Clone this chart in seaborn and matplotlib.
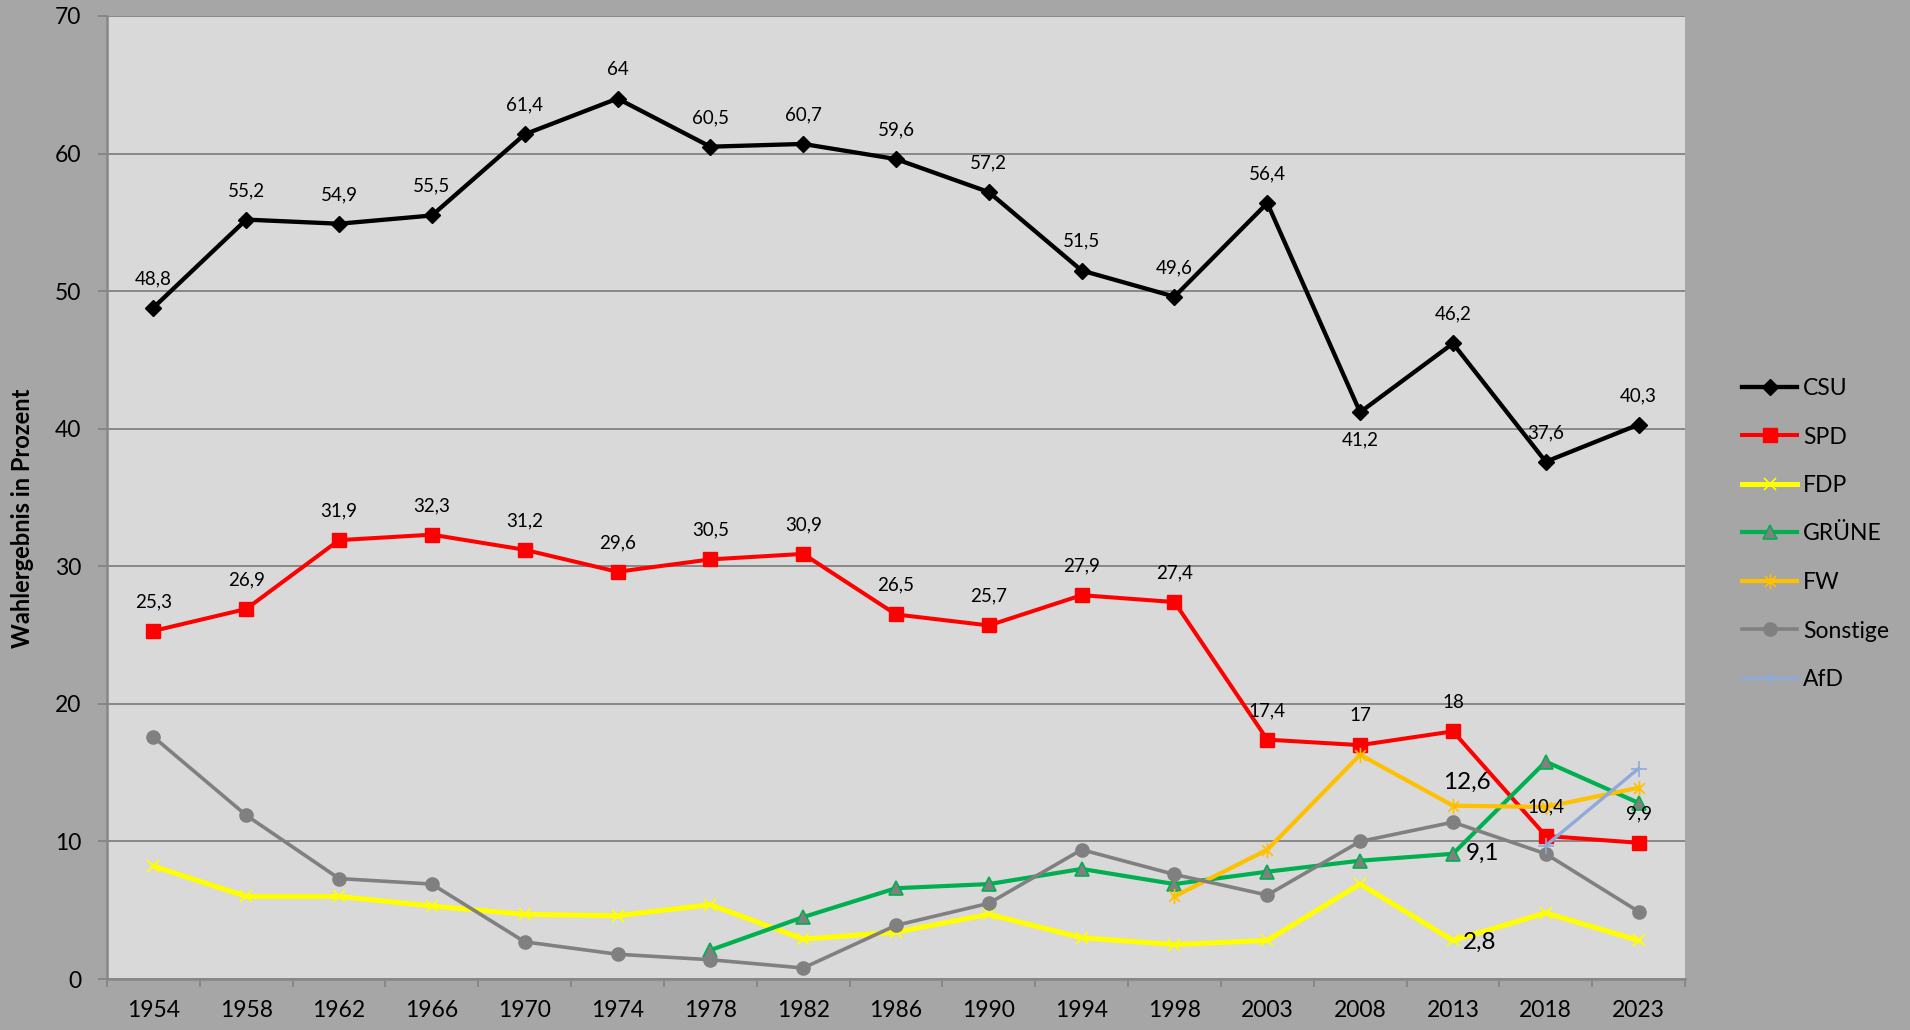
import numpy as np
import pandas as pd
import matplotlib
matplotlib.use("Agg")
import matplotlib.pyplot as plt
import seaborn as sns
from matplotlib.path import Path
from matplotlib.ticker import FixedLocator, NullFormatter

# ---------------- data ----------------
years = ["1954", "1958", "1962", "1966", "1970", "1974", "1978", "1982", "1986",
         "1990", "1994", "1998", "2003", "2008", "2013", "2018", "2023"]
csu = [48.8, 55.2, 54.9, 55.5, 61.4, 64, 60.5, 60.7, 59.6, 57.2, 51.5, 49.6,
       56.4, 41.2, 46.2, 37.6, 40.3]
spd = [25.3, 26.9, 31.9, 32.3, 31.2, 29.6, 30.5, 30.9, 26.5, 25.7, 27.9, 27.4,
       17.4, 17, 18, 10.4, 9.9]
fdp = [8.2, 6.0, 6.0, 5.3, 4.7, 4.6, 5.4, 2.9, 3.4, 4.7, 3.0, 2.5, 2.8, 6.9,
       2.8, 4.8, 2.8]
gruene = [np.nan] * 6 + [2.1, 4.5, 6.6, 6.9, 8.0, 6.9, 7.8, 8.6, 9.1, 15.8, 12.8]
fw = [np.nan] * 11 + [6.0, 9.4, 16.3, 12.6, 12.5, 13.9]
sonstige = [17.6, 11.9, 7.3, 6.9, 2.7, 1.8, 1.4, 0.8, 3.9, 5.5, 9.4, 7.6, 6.1,
            10.0, 11.4, 9.1, 4.9]
afd = [np.nan] * 15 + [9.7, 15.3]

series_names = ["CSU", "SPD", "FDP", "GRÜNE", "FW", "Sonstige", "AfD"]
series_values = [csu, spd, fdp, gruene, fw, sonstige, afd]
y_ticks = [0, 10, 20, 30, 40, 50, 60, 70]

# ---------------- style ----------------
plt.rcParams['font.family'] = ['Lato', 'DejaVu Sans']

asterisk = Path([(-0.7, -0.7), (0.7, 0.7), (-0.7, 0.7), (0.7, -0.7), (0, -1), (0, 1)],
                [Path.MOVETO, Path.LINETO, Path.MOVETO, Path.LINETO, Path.MOVETO, Path.LINETO])

styles = {
    "CSU": dict(color="black", marker="D", markersize=8, lw=3.1,
                markerfacecolor="black", markeredgecolor="black", markeredgewidth=1),
    "SPD": dict(color="#FF0000", marker="s", markersize=9.5, lw=2.9,
                markerfacecolor="#FF0000", markeredgecolor="#FF0000", markeredgewidth=1),
    "FDP": dict(color="#FFFF00", marker="x", markersize=9, lw=3.6,
                markerfacecolor="#FFFF00", markeredgecolor="#FFFF00", markeredgewidth=1.2),
    "GRÜNE": dict(color="#00B050", marker="^", markersize=10, lw=3.0,
                  markerfacecolor="#808080", markeredgecolor="#00B050", markeredgewidth=1.2),
    "FW": dict(color="#FFC000", marker=asterisk, markersize=11, lw=3.0,
               markerfacecolor="#FFC000", markeredgecolor="#FFC000", markeredgewidth=1.2),
    "Sonstige": dict(color="#808080", marker="o", markersize=9.5, lw=2.6,
                     markerfacecolor="#808080", markeredgecolor="#808080", markeredgewidth=1),
    "AfD": dict(color="#8EA9DB", marker="+", markersize=11, lw=2.4,
                markerfacecolor="#8EA9DB", markeredgecolor="#8EA9DB", markeredgewidth=1.2),
}

fig = plt.figure(figsize=(19.1, 10.3), dpi=100, facecolor="#A6A6A6")
ax = fig.add_axes([107 / 1910, 1 - 979 / 1030, (1685 - 107) / 1910, (979 - 16) / 1030])
ax.set_facecolor("#D9D9D9")

xpos = np.arange(len(years))
for name, vals in zip(series_names, series_values):
    df = pd.DataFrame({"x": xpos, "y": vals}).dropna()
    sns.lineplot(data=df, x="x", y="y", ax=ax, label=name, **styles[name])

ax.set_xlim(-0.5, len(years) - 0.5)
ax.set_ylim(0, 70)
ax.set_xticks(xpos)
ax.set_xticklabels(years)
ax.xaxis.set_minor_locator(FixedLocator(np.arange(-0.5, len(years), 1.0)))
ax.xaxis.set_minor_formatter(NullFormatter())
ax.set_yticks(y_ticks)
ax.set_xlabel("")
ax.set_ylabel("")

grid_c = "#878787"
ax.grid(axis="y", color=grid_c, lw=1.4)
ax.set_axisbelow(True)
for s in ["top", "right"]:
    ax.spines[s].set_visible(False)
for s in ["left", "bottom"]:
    ax.spines[s].set_color(grid_c)
    ax.spines[s].set_linewidth(1.8)

ax.tick_params(axis="x", which="major", length=0, pad=15, labelsize=16.5, labelcolor="black")
ax.tick_params(axis="x", which="minor", length=6, width=1.4, color=grid_c, direction="out")
ax.tick_params(axis="y", which="major", length=6.5, width=1.4, color=grid_c, pad=12,
               labelsize=16.5, labelcolor="black")


def fmt(v):
    return f"{v:g}".replace(".", ",")


# data labels CSU
for i, v in enumerate(csu):
    off = -20 if years[i] == "2008" else 21
    ax.annotate(fmt(v), (xpos[i], v), xytext=(0, off), textcoords="offset points",
                ha="center", va="center", fontsize=13.5, color="black")
# data labels SPD
for i, v in enumerate(spd):
    ax.annotate(fmt(v), (xpos[i], v), xytext=(0, 21), textcoords="offset points",
                ha="center", va="center", fontsize=13.5, color="black")

# special larger labels at 2013
i13 = years.index("2013")
ax.annotate(fmt(fw[i13]), (xpos[i13], fw[i13]), xytext=(10, 17), textcoords="offset points",
            ha="center", va="center", fontsize=17.5, color="black")
ax.annotate(fmt(gruene[i13]), (xpos[i13], gruene[i13]), xytext=(9, 0), textcoords="offset points",
            ha="left", va="center", fontsize=17.5, color="black")
ax.annotate(fmt(fdp[i13]), (xpos[i13], fdp[i13]), xytext=(7, -1), textcoords="offset points",
            ha="left", va="center", fontsize=17.5, color="black")

# legend
handles, labels = ax.get_legend_handles_labels()
ax.legend(handles, labels, loc="center left", bbox_to_anchor=(1742 / 1910, 1 - 534 / 1030),
          bbox_transform=fig.transFigure, frameon=False, fontsize=16.5,
          handlelength=2.4, handletextpad=0.25, labelspacing=1.2, borderpad=0,
          borderaxespad=0)

fig.text(22 / 1910, 1 - 518 / 1030, "Wahlergebnis in Prozent", rotation=90,
         ha="center", va="center", fontsize=17, fontweight="bold", color="black")

fig.savefig("out.png", dpi=100, facecolor=fig.get_facecolor())
